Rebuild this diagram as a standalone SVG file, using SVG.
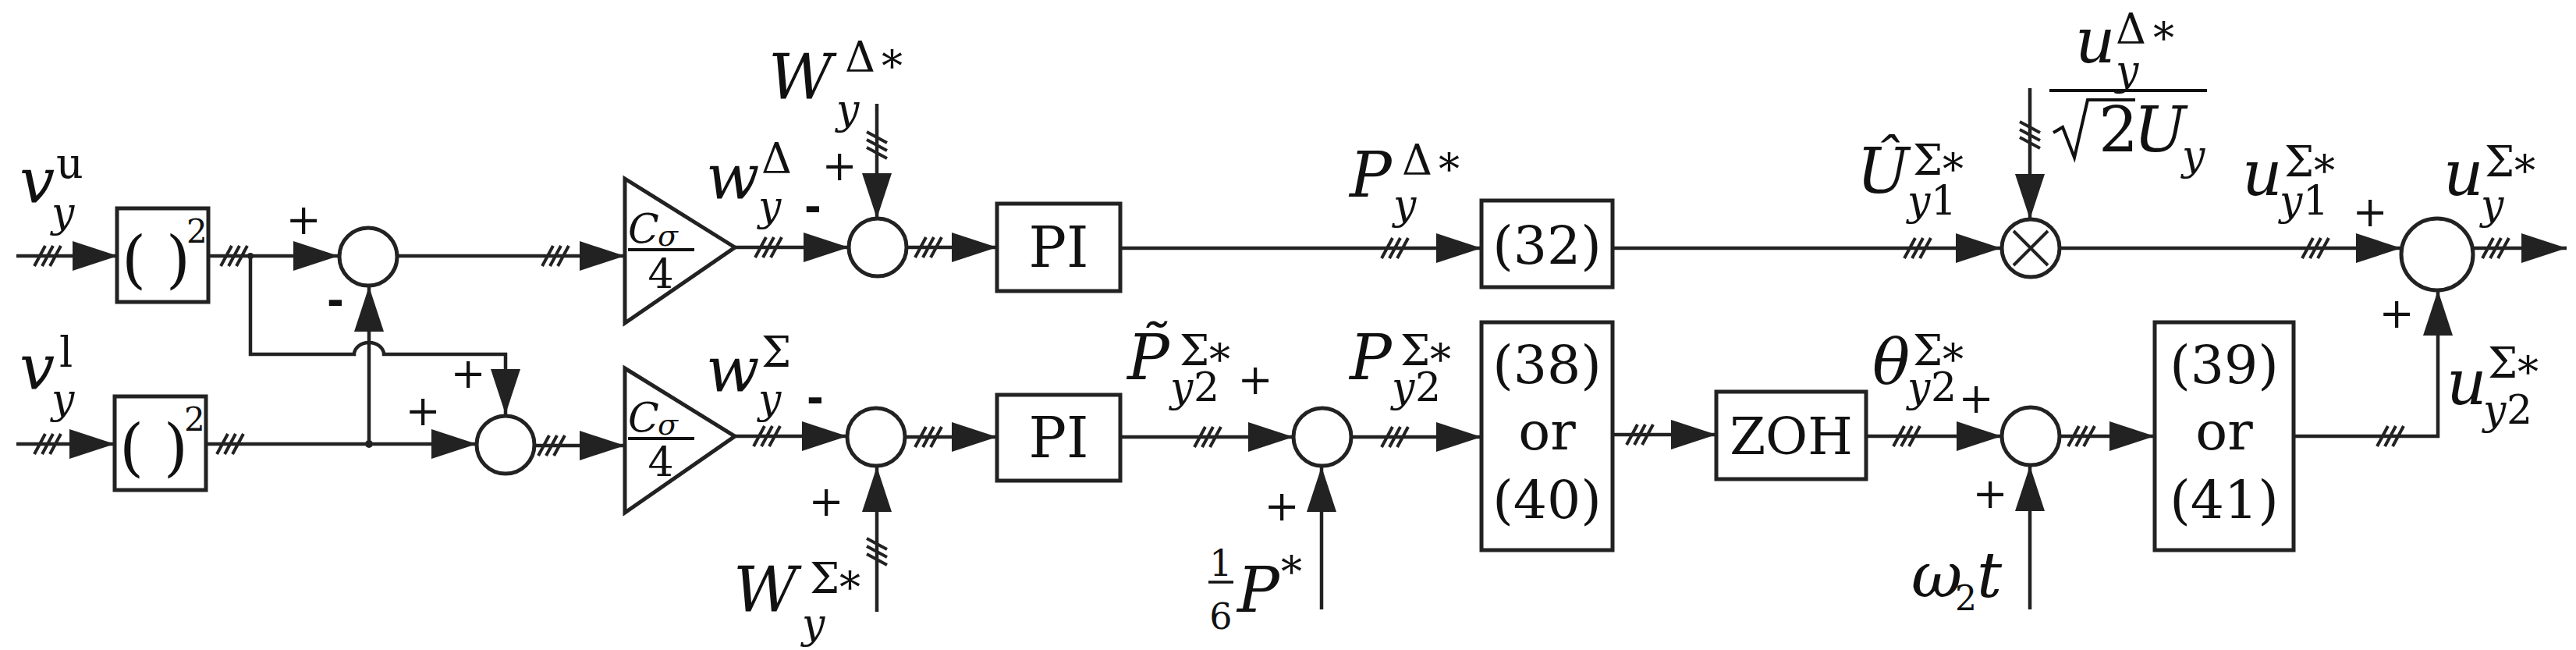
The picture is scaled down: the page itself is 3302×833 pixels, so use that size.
<svg xmlns="http://www.w3.org/2000/svg" width="3302" height="833" viewBox="0 0 3302 833">
<style>
.l{stroke:#222;stroke-width:4.5;fill:none}
.b{stroke:#222;stroke-width:5;fill:#fff}
.a{marker-end:url(#ar)}
text{font-family:"DejaVu Serif","Liberation Serif",serif;fill:#111}
.m{font-style:italic}
.big{font-size:80px}.sup{font-size:54px}.sub{font-size:52px}
.pl{font-size:54px;text-anchor:middle}
.mi{font-family:"Liberation Sans",sans-serif;font-weight:bold;font-size:64px;text-anchor:middle}
.c{text-anchor:middle}
</style>
<defs>
<marker id="ar" markerUnits="userSpaceOnUse" markerWidth="60" markerHeight="40" refX="58" refY="19" orient="auto"><path d="M0,0 L58,19 L0,38 z" fill="#222"/></marker>
<g id="tk"><path d="M-17,13 L-3,-13 M-7,13 L7,-13 M3,13 L17,-13" stroke="#222" stroke-width="4" fill="none"/></g>
</defs>

<g id="connectors">
<path class="l a" d="M21,328 H151"/><use href="#tk" x="61" y="328"/>
<path class="l a" d="M21,569 H147"/><use href="#tk" x="61" y="569"/>
<path class="l a" d="M267,328 H434"/><use href="#tk" x="300" y="328"/>
<circle cx="321" cy="328" r="4" fill="#222"/>
<path class="l a" d="M264,569 H611"/><use href="#tk" x="295" y="569"/>
<circle cx="473" cy="569" r="5" fill="#222"/>
<path class="l a" d="M473,569 V367"/>
<path class="l a" d="M321,328 V454 H454 A19,15 0 0 1 492,454 H648 V531"/>
<path class="l a" d="M509,328 H801"/><use href="#tk" x="712" y="328"/>
<path class="l a" d="M685,571 H801"/><use href="#tk" x="707" y="571"/>
<path class="l a" d="M942,317 H1088"/><use href="#tk" x="985" y="317"/>
<path class="l a" d="M942,559 H1086"/><use href="#tk" x="983" y="559"/>
<path class="l a" d="M1124,133 V280"/><use href="#tk" transform="translate(1124,186) rotate(-90)"/>
<path class="l a" d="M1124,784 V598"/><use href="#tk" transform="translate(1124,707) rotate(-90)"/>
<path class="l a" d="M1162,317 H1278"/><use href="#tk" x="1190" y="317"/>
<path class="l a" d="M1160,560 H1278"/><use href="#tk" x="1190" y="560"/>
<path class="l a" d="M1436,318 H1899"/><use href="#tk" x="1788" y="318"/>
<path class="l a" d="M1436,560 H1658"/><use href="#tk" x="1548" y="560"/>
<path class="l a" d="M1694,781 V598"/>
<path class="l a" d="M1732,560 H1899"/><use href="#tk" x="1788" y="560"/>
<path class="l a" d="M2067,318 H2565"/><use href="#tk" x="2458" y="318"/>
<path class="l a" d="M2067,557 H2200"/><use href="#tk" x="2102" y="557"/>
<path class="l a" d="M2392,559 H2566"/><use href="#tk" x="2444" y="559"/>
<path class="l a" d="M2602,113 V281"/><use href="#tk" transform="translate(2602,173) rotate(-90)"/>
<path class="l a" d="M2602,781 V597"/>
<path class="l a" d="M2640,559 H2762"/><use href="#tk" x="2668" y="559"/>
<path class="l a" d="M2641,318 H3078"/><use href="#tk" x="2968" y="318"/>
<path class="l a" d="M2940,559 H3125 V372"/><use href="#tk" x="3064" y="559"/>
<path class="l a" d="M3170,318 H3290"/><use href="#tk" x="3199" y="318"/>
</g>

<g id="sq1"><rect class="b" x="150" y="267" width="117" height="120"/><text x="200" y="360" font-size="80" text-anchor="middle">( )</text><text x="239" y="311" font-size="42">2</text></g>
<g id="sq2"><rect class="b" x="147" y="508" width="117" height="120"/><text x="197" y="601" font-size="80" text-anchor="middle">( )</text><text x="236" y="552" font-size="42">2</text></g>
<g id="sum1"><circle class="b" cx="472" cy="329" r="37"/></g>
<g id="sum2"><circle class="b" cx="648" cy="570" r="37"/></g>
<g id="gain1"><polygon class="b" points="801,229 942,317 801,414"/><text class="m" x="805" y="311" font-size="52">C</text><text class="m" x="843" y="315" font-size="38">σ</text><path d="M805,320 H890" stroke="#111" stroke-width="4"/><text x="847" y="369" font-size="52" text-anchor="middle">4</text></g>
<g id="gain2"><polygon class="b" points="801,472 942,559 801,657"/><text class="m" x="805" y="553" font-size="52">C</text><text class="m" x="843" y="557" font-size="38">σ</text><path d="M805,562 H890" stroke="#111" stroke-width="4"/><text x="847" y="610" font-size="52" text-anchor="middle">4</text></g>
<g id="sumD"><circle class="b" cx="1125" cy="317" r="37"/></g>
<g id="sumS"><circle class="b" cx="1123" cy="560" r="37"/></g>
<g id="pi1"><rect class="b" x="1278" y="261" width="158" height="112"/><text class="c" x="1357" y="342" font-size="72">PI</text></g>
<g id="pi2"><rect class="b" x="1278" y="506" width="158" height="110"/><text class="c" x="1357" y="586" font-size="72">PI</text></g>
<g id="sumP"><circle class="b" cx="1695" cy="560" r="37"/></g>
<g id="b32"><rect class="b" x="1899" y="257" width="168" height="111"/><text class="c" x="1983" y="338" font-size="68">(32)</text></g>
<g id="b38"><rect class="b" x="1899" y="413" width="168" height="292"/><text class="c" x="1983" y="491" font-size="68">(38)</text><text class="c" x="1983" y="576" font-size="68">or</text><text class="c" x="1983" y="664" font-size="68">(40)</text></g>
<g id="zoh"><rect class="b" x="2200" y="502" width="192" height="112"/><text class="c" x="2296" y="582" font-size="66">ZOH</text></g>
<g id="mult"><circle class="b" cx="2603" cy="318" r="37"/><path d="M2581,296 L2625,340 M2625,296 L2581,340" stroke="#222" stroke-width="4"/></g>
<g id="sumT"><circle class="b" cx="2603" cy="559" r="37"/></g>
<g id="b39"><rect class="b" x="2762" y="413" width="178" height="292"/><text class="c" x="2851" y="491" font-size="68">(39)</text><text class="c" x="2851" y="576" font-size="68">or</text><text class="c" x="2851" y="664" font-size="68">(41)</text></g>
<g id="sumOut"><circle class="b" cx="3124" cy="326" r="46"/></g>

<g id="labels">
<text class="m big" x="25" y="260">v</text><text class="sup" x="72" y="228">u</text><text class="m sub" x="66" y="290">y</text>
<text class="m big" x="25" y="499">v</text><text class="sup" x="76" y="470">l</text><text class="m sub" x="66" y="529">y</text>
<text class="pl" x="389" y="300">+</text><text class="mi" x="430" y="405">-</text>
<text class="pl" x="600" y="497">+</text><text class="pl" x="542" y="545">+</text>
<text class="m big" x="905" y="255">w</text><text class="sup" x="976" y="222">Δ</text><text class="m sub" x="972" y="282">y</text>
<text class="mi" x="1042" y="285">-</text><text class="pl" x="1076" y="231">+</text>
<text class="m big" x="905" y="502">w</text><text class="sup" x="976" y="470">Σ</text><text class="m sub" x="972" y="529">y</text>
<text class="mi" x="1045" y="530">-</text><text class="pl" x="1059" y="661">+</text>
<text class="m big" x="985" y="127">W</text><text class="sup" x="1083" y="92">Δ</text><text class="sup" x="1130" y="104">*</text><text class="m sub" x="1072" y="158">y</text>
<text class="m big" x="940" y="784">W</text><text class="sup" x="1038" y="760">Σ</text><text class="sup" x="1076" y="772">*</text><text class="m sub" x="1028" y="817">y</text>
<text class="m big" x="1445" y="486">P̃</text><text class="sup" x="1512" y="468">Σ</text><text class="sup" x="1550" y="480">*</text><text class="m sub" x="1500" y="514">y</text><text class="sub" x="1530" y="514">2</text>
<text class="pl" x="1609" y="505">+</text><text class="pl" x="1643" y="667">+</text>
<text class="c" x="1565" y="738" font-size="46">1</text><path d="M1549,746 H1581" stroke="#111" stroke-width="3.5"/><text class="c" x="1565" y="806" font-size="46">6</text>
<text class="m big" x="1586" y="784">P</text><text class="sup" x="1642" y="752">*</text>
<text class="m big" x="1730" y="252">P</text><text class="sup" x="1797" y="224">Δ</text><text class="sup" x="1844" y="236">*</text><text class="m sub" x="1786" y="280">y</text>
<text class="m big" x="1730" y="486">P</text><text class="sup" x="1795" y="468">Σ</text><text class="sup" x="1833" y="480">*</text><text class="m sub" x="1784" y="514">y</text><text class="sub" x="1814" y="514">2</text>
<text class="m big" x="2380" y="247">Û</text><text class="sup" x="2452" y="224">Σ</text><text class="sup" x="2490" y="236">*</text><text class="m sub" x="2445" y="275">y</text><text class="sub" x="2475" y="275">1</text>
<text class="m big" x="2400" y="491">θ</text><text class="sup" x="2452" y="468">Σ</text><text class="sup" x="2490" y="480">*</text><text class="m sub" x="2445" y="514">y</text><text class="sub" x="2475" y="514">2</text>
<text class="pl" x="2533" y="529">+</text><text class="pl" x="2551" y="651">+</text>
<text class="m big" x="2450" y="765">ω</text><text x="2506" y="782" font-size="44">2</text><text class="m big" x="2534" y="765">t</text>
<text class="m big" x="2660" y="80">u</text><text class="sup" x="2712" y="56">Δ</text><text class="sup" x="2760" y="68">*</text><text class="m sub" x="2712" y="108">y</text>
<path d="M2627,116 H2829" stroke="#111" stroke-width="4"/>
<path d="M2632,170 L2644,163 L2659,202 L2676,128 H2737" stroke="#111" stroke-width="4" fill="none"/>
<text x="2690" y="194" font-size="80">2</text><text class="m big" x="2735" y="194">U</text><text class="m sub" x="2797" y="217">y</text>
<text class="m big" x="2874" y="250">u</text><text class="sup" x="2928" y="226">Σ</text><text class="sup" x="2966" y="238">*</text><text class="m sub" x="2922" y="275">y</text><text class="sub" x="2952" y="275">1</text>
<text class="pl" x="3038" y="290" font-size="70">+</text><text class="pl" x="3072" y="420" font-size="70">+</text>
<text class="m big" x="3132" y="250">u</text><text class="sup" x="3185" y="226">Σ</text><text class="sup" x="3223" y="238">*</text><text class="m sub" x="3180" y="280">y</text>
<text class="m big" x="3136" y="518">u</text><text class="sup" x="3189" y="484">Σ</text><text class="sup" x="3227" y="496">*</text><text class="m sub" x="3183" y="543">y</text><text class="sub" x="3213" y="543">2</text>
</g>
</svg>
